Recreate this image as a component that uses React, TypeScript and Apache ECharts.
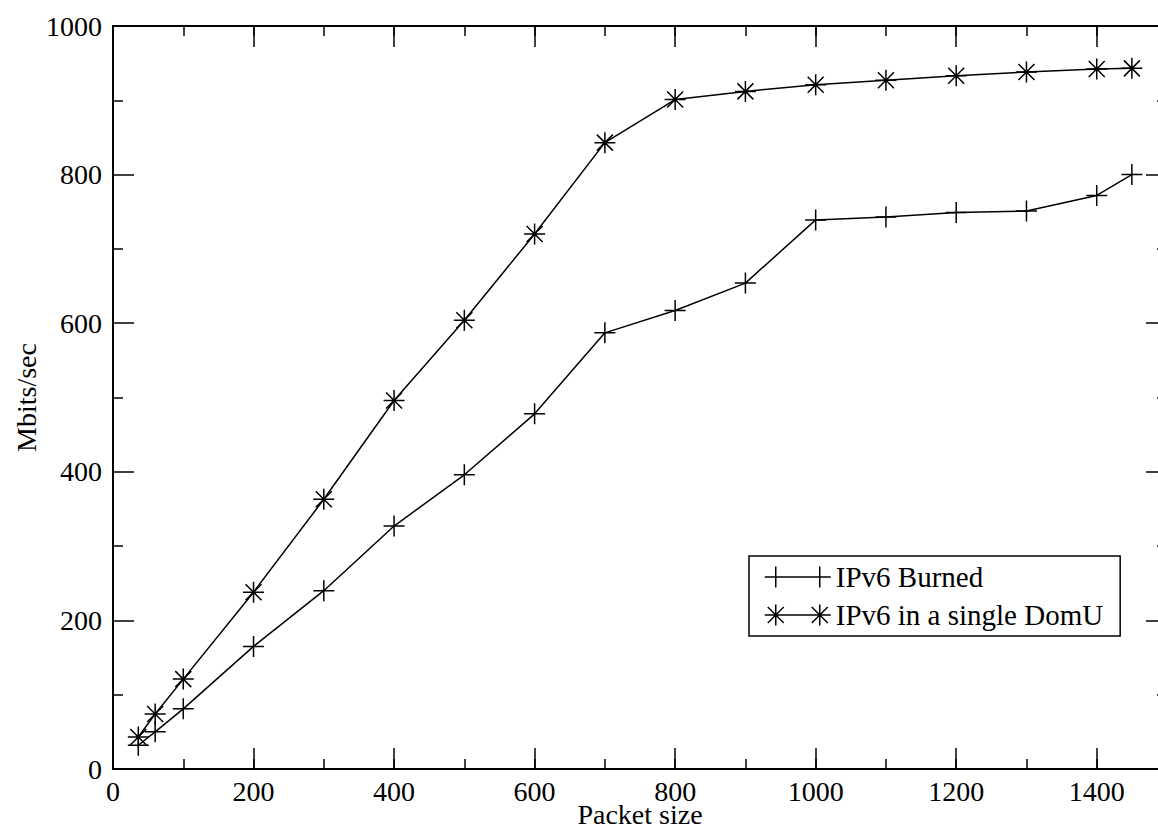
import React, { useEffect, useRef } from "react";
import * as echarts from "echarts";

const packetSizes = [36, 60, 100, 200, 300, 400, 500, 600, 700, 800, 900, 1000, 1100, 1200, 1300, 1400, 1450];
const burned = [32, 50, 81, 165, 240, 327, 396, 478, 587, 617, 654, 739, 743, 749, 751, 772, 800];
const domU = [43, 74, 121, 238, 363, 496, 604, 720, 843, 901, 912, 921, 927, 933, 938, 942, 943];
const seriesNames = ["IPv6 Burned", "IPv6 in a single DomU"];
const xAxisTitle = "Packet size";
const yAxisTitle = "Mbits/sec";

const FONT = "'Liberation Serif', 'DejaVu Serif', serif";

const plusSymbol = "path://M0,-10.5 L0,10.5 M-10.5,0 L10.5,0";
const starSymbol = "path://M0,-10.5 L0,10.5 M-10.5,0 L10.5,0 M-8,-8 L8,8 M-8,8 L8,-8";
const plusIcon = "path://M0,10.5 L66,10.5 M11,0 L11,21 M55,0 L55,21";
const starIcon =
  "path://M0,10.5 L66,10.5 M11,0 L11,21 M3,2.5 L19,18.5 M3,18.5 L19,2.5 M55,0 L55,21 M47,2.5 L63,18.5 M47,18.5 L63,2.5";

const plain = (v: number) => String(v);

export default function App() {
  const ref = useRef<HTMLDivElement>(null);
  useEffect(() => {
    if (!ref.current) return;
    const chart = echarts.init(ref.current, undefined, { renderer: "svg" });
    const black = "#000";
    const axisLine = { show: true, onZero: false, lineStyle: { color: black, width: 2 } };
    const majorTick = { show: true, inside: true, length: 21, lineStyle: { color: black, width: 1.5 } };
    const minorTickA = { show: true, inside: true, length: 10, lineStyle: { color: black, width: 1.5 } };
    const xBase = { type: "value", min: 0, max: 1500, splitLine: { show: false } };
    const yBase = { type: "value", min: 0, max: 1000, interval: 200, splitLine: { show: false } };
    const makeData = (ys: number[]) => packetSizes.map((x, i) => [x, ys[i]]);
    chart.setOption({
      animation: false,
      grid: { left: 113, top: 26, width: 1054, height: 743, containLabel: false, outerBoundsMode: "none" },
      legend: {
        orient: "vertical",
        left: 749,
        top: 556,
        padding: [6, 17, 6, 15],
        itemWidth: 66,
        itemHeight: 21,
        itemGap: 8,
        borderColor: black,
        borderWidth: 1.5,
        selectedMode: false,
        textStyle: { fontFamily: FONT, fontSize: 29, color: black, lineHeight: 30 },
        itemStyle: { color: black, borderColor: black, borderWidth: 1.5 },
        data: [
          { name: seriesNames[0], icon: plusIcon },
          { name: seriesNames[1], icon: starIcon },
        ],
      },
      xAxis: [
        {
          ...xBase,
          position: "bottom",
          interval: 200,
          axisLine,
          axisTick: majorTick,
          axisLabel: {
            fontFamily: FONT,
            fontSize: 28,
            lineHeight: 22,
            color: black,
            margin: 11,
            showMaxLabel: false,
            formatter: plain,
          },
          name: xAxisTitle,
          nameLocation: "middle",
          nameGap: 34,
          nameMoveOverlap: false,
          nameTextStyle: { fontFamily: FONT, fontSize: 28, lineHeight: 22, color: black },
        },
        {
          ...xBase,
          position: "top",
          interval: 200,
          axisLine,
          axisTick: majorTick,
          axisLabel: { show: false },
        },
        {
          ...xBase,
          position: "bottom",
          interval: 100,
          axisLine: { show: false, onZero: false },
          axisTick: minorTickA,
          axisLabel: { show: false },
        },
        {
          ...xBase,
          position: "top",
          interval: 100,
          axisLine: { show: false, onZero: false },
          axisTick: minorTickA,
          axisLabel: { show: false },
        },
      ],
      yAxis: [
        {
          ...yBase,
          position: "left",
          axisLine,
          axisTick: majorTick,
          minorTick: { show: true, splitNumber: 2, length: 10, lineStyle: { color: black, width: 1.5 } },
          minorSplitLine: { show: false },
          axisLabel: { fontFamily: FONT, fontSize: 28, color: black, margin: 11, formatter: plain },
          name: yAxisTitle,
          nameLocation: "middle",
          nameGap: 73,
          nameMoveOverlap: false,
          nameTextStyle: { fontFamily: FONT, fontSize: 28, color: black },
        },
        {
          ...yBase,
          position: "right",
          axisLine,
          axisTick: majorTick,
          minorTick: { show: true, splitNumber: 2, length: 10, lineStyle: { color: black, width: 1.5 } },
          minorSplitLine: { show: false },
          axisLabel: { show: false },
        },
      ],
      series: [
        {
          name: seriesNames[0],
          type: "line",
          data: makeData(burned),
          symbol: plusSymbol,
          symbolSize: 21,
          showAllSymbol: true,
          silent: true,
          lineStyle: { color: black, width: 1.5 },
          itemStyle: { color: black, borderColor: black, borderWidth: 1.5 },
          emphasis: { disabled: true },
        },
        {
          name: seriesNames[1],
          type: "line",
          data: makeData(domU),
          symbol: starSymbol,
          symbolSize: 21,
          showAllSymbol: true,
          silent: true,
          lineStyle: { color: black, width: 1.5 },
          itemStyle: { color: black, borderColor: black, borderWidth: 1.5 },
          emphasis: { disabled: true },
        },
      ],
    });
    return () => chart.dispose();
  }, []);
  return (
    <div
      ref={ref}
      style={{ position: "absolute", left: 0, top: 0, width: 1158, height: 832, background: "#fff", overflow: "hidden" }}
    />
  );
}
